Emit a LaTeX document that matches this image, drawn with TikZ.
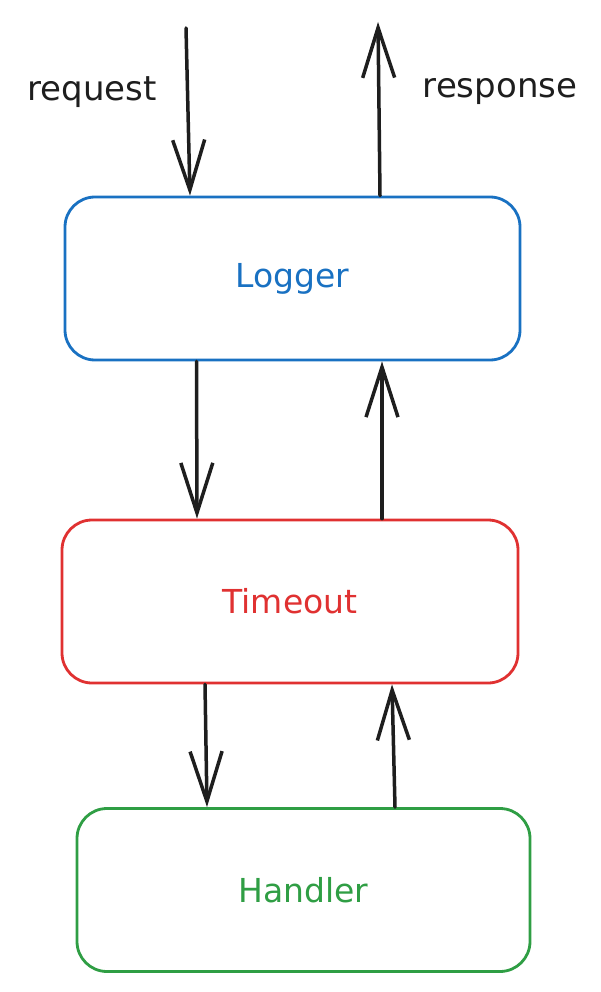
\documentclass[tikz,border=0pt]{standalone}
\usepackage{fontspec}
\setmainfont{DejaVu Sans}
\usetikzlibrary{arrows.meta}
\definecolor{exblue}{HTML}{1971C2}
\definecolor{exred}{HTML}{E03131}
\definecolor{exgreen}{HTML}{2F9E44}
\definecolor{exink}{HTML}{1E1E1E}
\begin{document}
\begin{tikzpicture}[x=1pt,y=-1pt,
  stage/.style={draw, line width=2.8pt, rounded corners=30pt, fill=white,
    minimum width=#1, minimum height=163pt, inner sep=0pt, font=\fontsize{33}{36}\selectfont},
  flow/.style={draw=exink, line width=3.5pt, line cap=round,
    -{Straight Barb[length=50pt,width=32pt,line width=3.5pt]}},
  lbl/.style={text=exink, inner sep=0pt, font=\fontsize{34}{38}\selectfont}]
\useasboundingbox (0,0) rectangle (600,992);
\node[stage=455pt, draw=exblue, text=exblue] (logger) at (292.5,278.5) {Logger};
\node[stage=456pt, draw=exred, text=exred] (timeout) at (290,601.5) {Timeout};
\node[stage=453pt, draw=exgreen, text=exgreen] (handler) at (303.5,890) {Handler};
\coordinate (reqstart) at (186,28);
\coordinate (respend) at (378,22);
\node[lbl] (reqlabel) at (92,92) {request};
\node[lbl] (resplabel) at (500,92) {response};
\draw[flow] (reqstart) -- ([xshift=-102.5pt]logger.north);
\draw[flow] ([xshift=87.5pt]logger.north) -- (respend);
\draw[flow] ([xshift=-96pt]logger.south) -- ([xshift=-93pt]timeout.north);
\draw[flow] ([xshift=92pt]timeout.north) -- ([xshift=89.5pt]logger.south);
\draw[flow] ([xshift=-85pt]timeout.south) -- ([xshift=-96.5pt]handler.north);
\draw[flow] ([xshift=91.5pt]handler.north) -- ([xshift=102pt]timeout.south);
\end{tikzpicture}
\end{document}
